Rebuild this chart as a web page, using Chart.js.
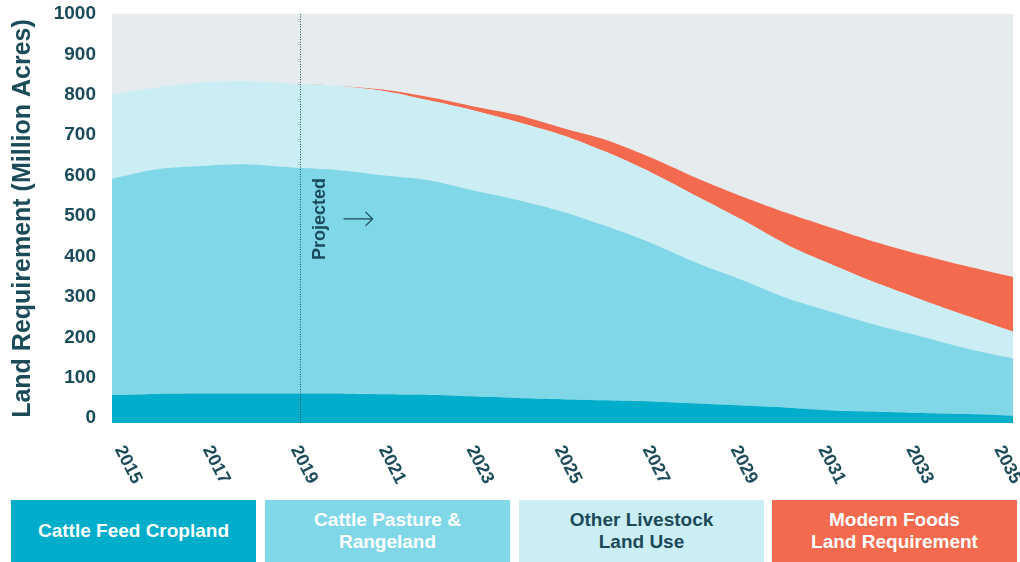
<!DOCTYPE html>
<html>
<head>
<meta charset="utf-8">
<script src="https://cdn.jsdelivr.net/npm/chart.js@4.4.1/dist/chart.umd.min.js"></script>
<style>
  html, body { margin: 0; padding: 0; background: #fff; width: 1020px; height: 562px; overflow: hidden; }
  body { font-family: "Liberation Sans", Arial, sans-serif; }
  #wrap { position: absolute; left: 0; top: 0; width: 1020px; height: 490px; }
  .key { position: absolute; top: 500px; height: 62px; width: 245px; display: flex; align-items: center;
         justify-content: center; text-align: center; font-weight: bold; font-size: 19px; line-height: 22px; color: #fff; }
</style>
</head>
<body>
<div id="wrap"><canvas id="chart" width="1020" height="490"></canvas></div>
<div id="legend"></div>
<script>
// values (million acres, per layer, stacked)
const years = [2015, 2016, 2017, 2018, 2019, 2020, 2021, 2022, 2023, 2024, 2025,
               2026, 2027, 2028, 2029, 2030, 2031, 2032, 2033, 2034, 2035];
const cropland  = [57, 60, 61, 61, 61, 61, 59, 58, 54, 50, 47, 44, 41, 36, 31, 26, 19, 16, 13, 10, 6];
const pasture   = [536, 556, 563, 567, 559, 553, 542, 531, 510, 490, 464, 430, 391, 347, 310, 270, 243, 213, 188, 162, 142];
const livestock = [208, 202, 207, 206, 208, 208, 209, 198, 198, 193, 189, 183, 174, 165, 149, 132, 117, 104, 91, 80, 66];
const modern    = [0, 0, 0, 0, 0, 0, 3, 8, 10, 17, 18, 30, 37, 45, 58, 79, 91, 101, 111, 123, 135];
const yTicks = [0, 100, 200, 300, 400, 500, 600, 700, 800, 900, 1000];
const projectedFrom = 2019.18;
const legendLines = [
  ['Cattle Feed Cropland'],
  ['Cattle Pasture &', 'Rangeland'],
  ['Other Livestock', 'Land Use'],
  ['Modern Foods', 'Land Requirement']
];

const textColor = '#1b4b5a';
const colors = ['#00aecb', '#80d7e7', '#cbeef4', '#f36a4f'];
const legendText = ['#fff', '#fff', textColor, '#fff'];
const legendLeft = [11, 265, 519, 772];

// legend boxes
const legend = document.getElementById('legend');
legendLines.forEach((lines, i) => {
  const d = document.createElement('div');
  d.className = 'key';
  d.style.left = legendLeft[i] + 'px';
  d.style.background = colors[i];
  d.style.color = legendText[i];
  d.innerHTML = lines.join('<br>');
  legend.appendChild(d);
});

const plotBg = {
  id: 'plotBg',
  beforeDraw(chart) {
    const { ctx, chartArea: a } = chart;
    ctx.save();
    ctx.fillStyle = '#e6eced';
    ctx.fillRect(a.left, a.top, a.right - a.left, a.bottom - a.top);
    ctx.restore();
  }
};

const overlay = {
  id: 'overlay',
  afterDatasetsDraw(chart) {
    const { ctx, chartArea: a, scales: { x, y } } = chart;
    ctx.save();

    // projected marker
    const px = Math.round(x.getPixelForValue(projectedFrom - years[0])) + 0.5;
    ctx.strokeStyle = textColor;
    ctx.lineWidth = 1;
    ctx.setLineDash([1, 1.5]);
    ctx.beginPath();
    ctx.moveTo(px, a.top);
    ctx.lineTo(px, a.bottom);
    ctx.stroke();
    ctx.setLineDash([]);

    const py = y.getPixelForValue(493);
    ctx.fillStyle = textColor;
    ctx.font = 'bold 18px "Liberation Sans", Arial, sans-serif';
    ctx.save();
    ctx.translate(px + 20, py);
    ctx.rotate(-Math.PI / 2);
    ctx.textAlign = 'center';
    ctx.textBaseline = 'middle';
    ctx.fillText('Projected', 0, 0);
    ctx.restore();

    ctx.lineWidth = 1.3;
    ctx.beginPath();
    ctx.moveTo(px + 43, py);
    ctx.lineTo(px + 72, py);
    ctx.moveTo(px + 65, py - 7);
    ctx.lineTo(px + 72, py);
    ctx.lineTo(px + 65, py + 7);
    ctx.stroke();

    // x labels, every other year, rotated clockwise (spread a bit tighter than the ticks)
    ctx.font = 'bold 18px "Liberation Sans", Arial, sans-serif';
    ctx.textAlign = 'left';
    ctx.textBaseline = 'middle';
    years.forEach((yr, i) => {
      if (i % 2) return;
      const tx = a.left + (x.getPixelForValue(i) - a.left) * 0.976;
      ctx.save();
      ctx.translate(tx + 7, a.bottom + 24);
      ctx.rotate(63 * Math.PI / 180);
      ctx.fillText(String(yr), 0, 0);
      ctx.restore();
    });
    ctx.restore();
  }
};

const series = [cropland, pasture, livestock, modern];
new Chart(document.getElementById('chart'), {
  type: 'line',
  data: {
    labels: years,
    datasets: series.map((data, i) => ({
      label: legendLines[i].join(' '),
      data: data,
      backgroundColor: colors[i],
      borderWidth: 0,
      fill: i === 0 ? 'start' : '-1'
    }))
  },
  options: {
    responsive: false,
    animation: false,
    layout: { padding: { top: 14, right: 7 } },
    elements: { point: { radius: 0 }, line: { tension: 0.3, borderWidth: 0 } },
    plugins: { legend: { display: false }, tooltip: { enabled: false } },
    scales: {
      x: {
        grid: { display: false, drawTicks: false },
        border: { display: false },
        ticks: { display: false },
        afterFit: s => { s.height = 67; }
      },
      y: {
        stacked: true,
        min: -12,
        max: 1000,
        afterBuildTicks: s => { s.ticks = yTicks.map(v => ({ value: v })); },
        afterFit: s => { s.width = 112; s.paddingTop = 0; s.paddingBottom = 0; },
        grid: { display: false, drawTicks: false },
        border: { display: false },
        ticks: {
          padding: 16,
          color: textColor,
          callback: v => String(v),
          font: { family: '"Liberation Sans", Arial, sans-serif', size: 19, weight: 'bold' }
        },
        title: {
          display: true,
          text: 'Land Requirement (Million Acres)',
          color: textColor,
          padding: { top: 8, bottom: 0 },
          font: { family: '"Liberation Sans", Arial, sans-serif', size: 25, weight: 'bold', lineHeight: 1.2 }
        }
      }
    }
  },
  plugins: [plotBg, overlay]
});
</script>
</body>
</html>
